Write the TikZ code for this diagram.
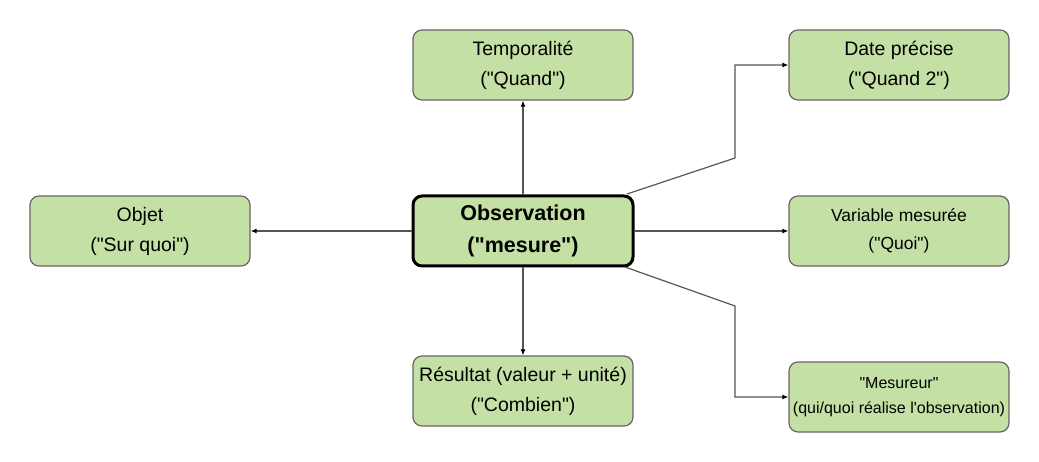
\documentclass[tikz,border=0pt]{standalone}
\usepackage{fontspec}
\setmainfont{Liberation Sans}[Ligatures=TeXOff]
\usetikzlibrary{arrows.meta}
\definecolor{boxfill}{HTML}{C5E0A5}
\definecolor{boxline}{HTML}{666666}
\definecolor{conn}{HTML}{555555}
\begin{document}
\begin{tikzpicture}[x=1pt,y=-1pt,
  box/.style={draw=boxline, line width=1.2pt, fill=boxfill, rounded corners=9pt,
    minimum width=220pt, minimum height=70pt, inner sep=0pt, align=center,
    font=\fontsize{19.5}{30}\selectfont},
  varbox/.style={box, font=\fontsize{17.5}{28}\selectfont},
  smallbox/.style={box, font=\fontsize{16}{25}\selectfont},
  mainbox/.style={box, draw=black, line width=3pt, font=\bfseries\fontsize{21.5}{32}\selectfont},
  conn/.style={draw=conn, line width=1.2pt, -{Latex[black,length=6pt,width=5pt]}}]
\useasboundingbox (0,0) rectangle (1039,462);
\node[mainbox] (obs) at (523,231) {Observation\\("mesure")};
\node[box] (temp) at (523,65) {Temporalité\\("Quand")};
\node[box] (date) at (899,65) {Date précise\\("Quand 2")};
\node[box] (objet) at (140,231) {Objet\\("Sur quoi")};
\node[varbox] (var) at (899,231) {Variable mesurée\\("Quoi")};
\node[box] (res) at (523,391) {Résultat (valeur + unité)\\("Combien")};
\node[smallbox] (mes) at (899,397) {"Mesureur"\\(qui/quoi réalise l'observation)};
\coordinate (s1) at (627,194);
\coordinate (s2) at (625,267);
\coordinate (k1) at (735,158);
\coordinate (k2) at (735,306);
\draw[conn] (obs.north) -- (temp.south);
\draw[conn] (obs.west) -- (objet.east);
\draw[conn] (obs.south) -- (res.north);
\draw[conn] (obs.east) -- (var.west);
\draw[conn] (s1) -- (k1) |- (date.west);
\draw[conn] (s2) -- (k2) |- (mes.west);
\end{tikzpicture}
\end{document}
